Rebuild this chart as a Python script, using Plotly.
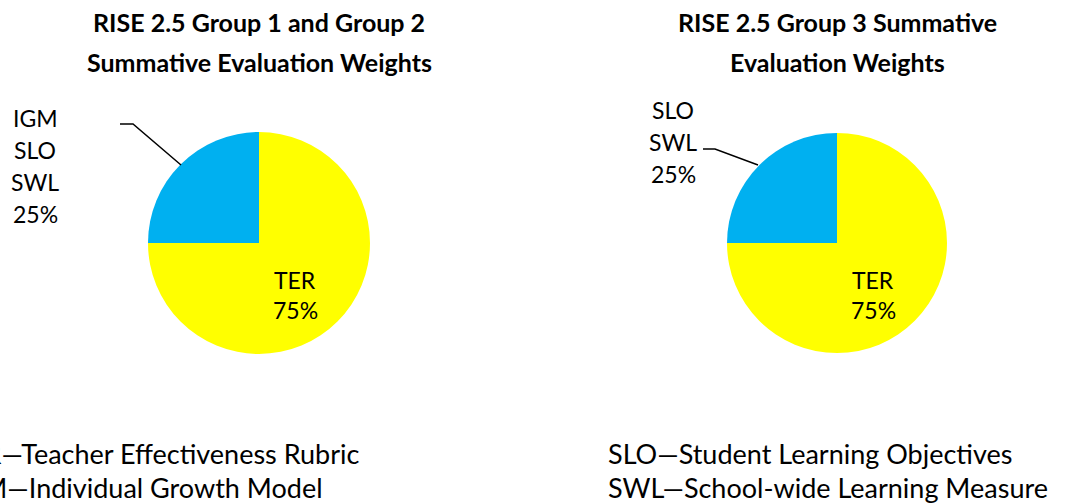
import plotly.graph_objects as go

# Data
left_labels = ["TER", "IGM<br>SLO<br>SWL"]
left_values = [75, 25]
right_labels = ["TER", "SLO<br>SWL"]
right_values = [75, 25]
colors = ["#FFFF00", "#00B0F0"]
left_title = ["RISE 2.5 Group 1 and Group 2", "Summative Evaluation Weights"]
right_title = ["RISE 2.5 Group 3 Summative", "Evaluation Weights"]
left_legend = ["TER—Teacher Effectiveness Rubric", "IGM—Individual Growth Model"]
right_legend = ["SLO—Student Learning Objectives", "SWL—School-wide Learning Measure"]

W, H = 1080, 504
FONT = "Lato, Carlito, Calibri, sans-serif"

def dom(cx, cy, r):
    return dict(x=[(cx - r) / W, (cx + r) / W], y=[1 - (cy + r) / H, 1 - (cy - r) / H])

fig = go.Figure()
fig.add_trace(go.Pie(labels=left_labels, values=left_values, sort=False, direction="clockwise",
                     rotation=0, marker=dict(colors=colors), textinfo="none", hoverinfo="label+percent",
                     domain=dom(259, 243, 111), showlegend=False))
fig.add_trace(go.Pie(labels=right_labels, values=right_values, sort=False, direction="clockwise",
                     rotation=0, marker=dict(colors=colors), textinfo="none", hoverinfo="label+percent",
                     domain=dom(837, 243, 110), showlegend=False))

def pct(v, vals):
    return f"{round(100 * v / sum(vals))}%"

ann = []
def add(x, y, text, size=20, xanchor="center", align="center"):
    ann.append(dict(x=x / W, y=1 - y / H, xref="paper", yref="paper", text=text, showarrow=False,
                    xanchor=xanchor, yanchor="middle", align=align,
                    font=dict(family=FONT, size=size, color="black")))

def add_lines(x, y0, step, lines, size):
    for i, ln in enumerate(lines):
        add(x, y0 + i * step, ln, size=size)

bt = lambda s: "<b>" + s + "</b>"
add_lines(259, 22, 40, [bt(t) for t in left_title], 25)
add_lines(837, 22, 40, [bt(t) for t in right_title], 25)
add_lines(295, 280, 30, [left_labels[0], pct(left_values[0], left_values)], 23)
add_lines(873, 280, 30, [right_labels[0], pct(right_values[0], right_values)], 23)
add_lines(35, 118, 32, left_labels[1].split("<br>") + [pct(left_values[1], left_values)], 23)
add_lines(673, 110, 32, right_labels[1].split("<br>") + [pct(right_values[1], right_values)], 23)
add(362, 453, left_legend[0], size=27, xanchor="right", align="left")
add(325, 487, left_legend[1], size=27, xanchor="right", align="left")
add(606, 453, right_legend[0], size=27, xanchor="left", align="left")
add(606, 487, right_legend[1], size=27, xanchor="left", align="left")

def px(x, y):
    return x / W, 1 - y / H

shapes = []
for pts in [[(120, 124), (133, 124), (181, 165)], [(703, 149), (715, 149), (758, 165)]]:
    path = "M " + " L ".join(f"{px(*p)[0]},{px(*p)[1]}" for p in pts)
    shapes.append(dict(type="path", path=path, xref="paper", yref="paper",
                       line=dict(color="black", width=1.5)))

fig.update_layout(width=W, height=H, margin=dict(l=0, r=0, t=0, b=0),
                  paper_bgcolor="white", plot_bgcolor="white",
                  annotations=ann, shapes=shapes, font=dict(family=FONT))
fig.write_html("out.html", config={"displayModeBar": False},
               post_script="document.body.style.margin='0';document.body.style.overflow='hidden';")
